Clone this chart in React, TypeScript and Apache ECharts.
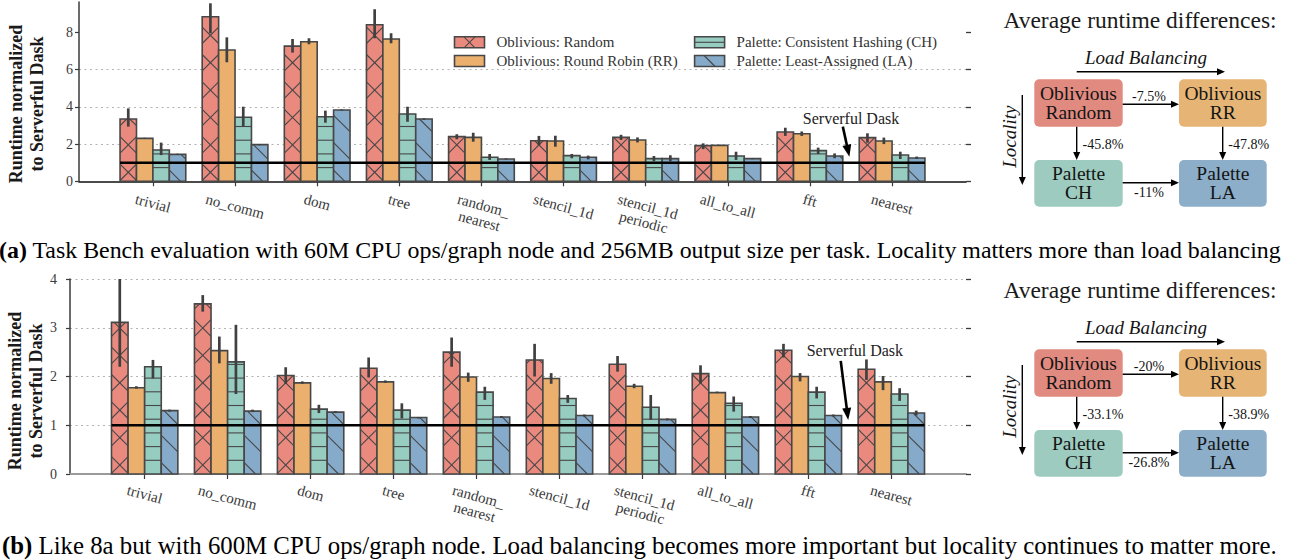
import { useEffect, useRef } from 'react';
import * as echarts from 'echarts';

const FONT = '"Liberation Serif", "Times New Roman", Times, serif';

// ---------------- data ----------------
const categories = ['trivial', 'no_comm', 'dom', 'tree', 'random_\nnearest', 'stencil_1d', 'stencil_1d\nperiodic', 'all_to_all', 'fft', 'nearest'];
const seriesNames = ['Oblivious: Random', 'Oblivious: Round Robin (RR)', 'Palette: Consistent Hashing (CH)', 'Palette: Least-Assigned (LA)'];

// (a) 60M CPU ops / graph node
const aRandom = [3.35, 8.85, 7.27, 8.42, 2.40, 2.18, 2.36, 1.92, 2.65, 2.35];
const aRandomErr = [[2.94, 3.92], [7.96, 9.57], [6.92, 7.65], [7.69, 9.25], [2.26, 2.53], [1.95, 2.44], [2.22, 2.50], [1.73, 2.04], [2.44, 2.88], [2.08, 2.58]];
const aRR = [2.31, 7.06, 7.50, 7.65, 2.36, 2.17, 2.22, 1.93, 2.56, 2.17];
const aRRErr = [[2.28, 2.34], [6.40, 7.74], [7.37, 7.69], [7.42, 7.96], [2.13, 2.61], [1.86, 2.45], [2.09, 2.36], [1.90, 1.96], [2.44, 2.68], [2.00, 2.35]];
const aCH = [1.68, 3.44, 3.47, 3.62, 1.29, 1.38, 1.22, 1.36, 1.65, 1.41];
const aCHErr = [[1.41, 2.08], [2.94, 4.01], [3.15, 3.80], [3.20, 4.01], [1.15, 1.47], [1.24, 1.47], [1.08, 1.36], [1.15, 1.59], [1.47, 1.81], [1.20, 1.59]];
const aLA = [1.45, 1.97, 3.83, 3.35, 1.20, 1.29, 1.22, 1.22, 1.36, 1.25];
const aLAErr = [[1.42, 1.48], [1.94, 2.00], [3.80, 3.86], [3.31, 3.39], [1.17, 1.23], [1.18, 1.38], [1.08, 1.40], [1.19, 1.25], [1.24, 1.50], [1.20, 1.33]];

// (b) 600M CPU ops / graph node
const bRandom = [3.11, 3.49, 2.02, 2.17, 2.50, 2.34, 2.25, 2.06, 2.54, 2.15];
const bRandomErr = [[2.20, 4.00], [3.33, 3.67], [1.85, 2.19], [1.98, 2.39], [2.20, 2.80], [2.00, 2.67], [2.10, 2.42], [1.86, 2.23], [2.39, 2.67], [1.93, 2.35]];
const bRR = [1.77, 2.53, 1.87, 1.89, 1.99, 1.96, 1.80, 1.67, 2.00, 1.89];
const bRRErr = [[1.75, 1.80], [2.27, 2.82], [1.85, 1.90], [1.87, 1.92], [1.89, 2.08], [1.85, 2.07], [1.76, 1.85], [1.66, 1.69], [1.90, 2.07], [1.72, 2.01]];
const bCH = [2.20, 2.30, 1.33, 1.31, 1.68, 1.55, 1.37, 1.45, 1.68, 1.64];
const bCHErr = [[1.96, 2.34], [1.64, 3.06], [1.25, 1.42], [1.14, 1.45], [1.52, 1.79], [1.46, 1.62], [1.11, 1.62], [1.28, 1.59], [1.55, 1.79], [1.50, 1.76]];
const bLA = [1.30, 1.29, 1.27, 1.16, 1.17, 1.20, 1.12, 1.17, 1.20, 1.25];
const bLAErr = [[1.28, 1.32], [1.27, 1.32], [1.25, 1.29], [1.14, 1.17], [1.15, 1.19], [1.18, 1.22], [1.10, 1.14], [1.15, 1.19], [1.18, 1.22], [1.20, 1.30]];

const topYTicks = [0, 2, 4, 6, 8];
const bottomYTicks = [0, 1, 2, 3, 4];
const serverfulValue = 1;
const yAxisTitle = 'Runtime normalized\nto Serverful Dask';
const annotationLabel = 'Serverful Dask';
const diagramTitle = 'Average runtime differences:';
const loadBalancingLabel = 'Load Balancing';
const localityLabel = 'Locality';
const boxLabels = ['Oblivious\nRandom', 'Oblivious\nRR', 'Palette\nCH', 'Palette\nLA'];
// order: Random->RR, Random->CH, RR->LA, CH->LA
const topDiffs = ['-7.5%', '-45.8%', '-47.8%', '-11%'];
const bottomDiffs = ['-20%', '-33.1%', '-38.9%', '-26.8%'];
const captionATag = '(a)';
const captionA = ' Task Bench evaluation with 60M CPU ops/graph node and 256MB output size per task. Locality matters more than load balancing';
const captionBTag = '(b)';
const captionB = ' Like 8a but with 600M CPU ops/graph node. Load balancing becomes more important but locality continues to matter more.';

// ---------------- styles ----------------
const BAR_W = 0.2;
const OFFSETS = [-0.3, -0.1, 0.1, 0.3];
const FILLS = ['#EA8A7F', '#EBB06E', '#97CCC0', '#86ABCA'];
const BOX_FILLS = ['#E08A80', '#E6B474', '#9DCBBF', '#8DAEC9'];
const HATCH = ['x', '', '-', '\\'];
const HATCH_PHASE = [9, 0, 0, 3];
const EDGE = '#474747';
const ERR = '#404040';
const H_SP = 13.7;
const D_SP = 27.4;
const TOP_YMAX = 9.64;
const X_MIN = -0.9;
const X_MAX = 9.9;
const XLABEL_SIZE = 15;
const XLABEL_LH = 16;

function hatchSegs(kind: string, x0: number, y0: number, x1: number, y1: number, cx: number, cy: number): number[][] {
  const out: number[][] = [];
  if (x1 - x0 <= 0 || y1 - y0 <= 0) return out;
  if (kind === '-') {
    for (let k = Math.ceil((y0 - cy) / H_SP); k < 1000; k++) {
      const y = cy + k * H_SP;
      if (y >= y1 - 0.3) break;
      if (y > y0 + 0.3) out.push([x0, y, x1, y]);
    }
  }
  if (kind === '\\' || kind === 'x') {
    const c0 = cy - cx;
    const cMin = y0 - x1, cMax = y1 - x0;
    for (let k = Math.ceil((cMin - c0) / D_SP); k < 1000; k++) {
      const c = c0 + k * D_SP;
      if (c > cMax) break;
      const xa = Math.max(x0, y0 - c), xb = Math.min(x1, y1 - c);
      if (xb - xa > 0.2) out.push([xa, xa + c, xb, xb + c]);
    }
  }
  if (kind === 'x') {
    const c0 = cy + cx;
    const cMin = x0 + y0, cMax = x1 + y1;
    for (let k = Math.ceil((cMin - c0) / D_SP); k < 1000; k++) {
      const c = c0 + k * D_SP;
      if (c > cMax) break;
      const xa = Math.max(x0, c - y1), xb = Math.min(x1, c - y0);
      if (xb - xa > 0.2) out.push([xa, c - xa, xb, c - xb]);
    }
  }
  return out;
}

function patchElements(alg: number, x0: number, y0: number, x1: number, y1: number, cx: number, cy: number, edgeW: number) {
  const segs = hatchSegs(HATCH[alg], x0, y0, x1, y1, cx, cy);
  const els: any[] = [
    { type: 'rect', shape: { x: x0, y: y0, width: x1 - x0, height: y1 - y0 }, style: { fill: FILLS[alg], stroke: null } },
  ];
  segs.forEach((s) => els.push({ type: 'line', shape: { x1: s[0], y1: s[1], x2: s[2], y2: s[3] }, style: { stroke: EDGE, lineWidth: 1.1 } }));
  els.push({ type: 'rect', shape: { x: x0, y: y0, width: x1 - x0, height: y1 - y0 }, style: { fill: null, stroke: EDGE, lineWidth: edgeW } });
  return els;
}

function barSeries(gi: number, vals: number[][], errs: number[][][], ymax: number) {
  return vals.map((arr, alg) => ({
    type: 'custom',
    name: seriesNames[alg],
    xAxisIndex: gi,
    yAxisIndex: gi * 2,
    clip: false,
    z: 2,
    silent: true,
    data: arr.map((v, i) => [i, v, errs[alg][i][0], Math.min(errs[alg][i][1], ymax)]),
    renderItem: (_params: any, api: any) => {
      const c = api.value(0), v = api.value(1), lo = api.value(2), hi = api.value(3);
      const xc = c + OFFSETS[alg];
      const p0 = api.coord([xc - BAR_W / 2, v]);
      const p1 = api.coord([xc + BAR_W / 2, 0]);
      const e0 = api.coord([xc, lo]);
      const e1 = api.coord([xc, hi]);
      const children = patchElements(alg, p0[0], p0[1], p1[0], p1[1], (p0[0] + p1[0]) / 2, p1[1] - HATCH_PHASE[alg], 1.6);
      children.push({ type: 'line', shape: { x1: e0[0], y1: e0[1], x2: e1[0], y2: e1[1] }, style: { stroke: ERR, lineWidth: 2.7 } });
      return { type: 'group', children };
    },
  }));
}

function xAxisCfg(gi: number, lineColor: string, lineWidth: number) {
  const ticks = categories.map((_, i) => i);
  return {
    type: 'value',
    gridIndex: gi,
    min: X_MIN,
    max: X_MAX,
    axisLine: { show: true, onZero: false, lineStyle: { color: lineColor, width: lineWidth } },
    axisTick: { show: true, customValues: ticks, length: 5, lineStyle: { color: '#3a3a3a', width: 1.2 } },
    axisLabel: { show: false },
    splitLine: { show: false },
  };
}

function yLeft(gi: number, max: number, interval: number, ticks: number[], margin: number, showMax: boolean) {
  return {
    type: 'value',
    gridIndex: gi,
    position: 'left',
    min: 0,
    max,
    interval,
    axisLine: { show: true, onZero: false, lineStyle: { color: '#3a3a3a', width: 1.5 } },
    axisTick: { show: true, customValues: ticks, length: 4, lineStyle: { color: '#3a3a3a', width: 1.2 } },
    axisLabel: { customValues: ticks, fontFamily: FONT, fontSize: 14, color: '#3a3a3a', margin },
    splitLine: { show: true, showMinLine: false, showMaxLine: showMax, lineStyle: { color: '#b3b3b3', width: 1, type: [2, 3.5] } },
  };
}

function yRight(gi: number, max: number, interval: number, ticks: number[]) {
  return {
    type: 'value',
    gridIndex: gi,
    position: 'right',
    min: 0,
    max,
    interval,
    axisLine: { show: false, onZero: false },
    axisTick: { show: true, customValues: ticks, length: 5, lineStyle: { color: '#3a3a3a', width: 1.3 } },
    axisLabel: { show: false },
    splitLine: { show: false },
  };
}

function baselineSeries(gi: number) {
  return {
    type: 'line',
    xAxisIndex: gi,
    yAxisIndex: gi * 2,
    data: [[-2 * BAR_W, serverfulValue], [categories.length - 1 + 2 * BAR_W, serverfulValue]],
    symbol: 'none',
    silent: true,
    z: 5,
    lineStyle: { color: '#000', width: 2.6 },
  };
}

function buildOption() {
  return {
    animation: false,
    grid: [
      { left: 79, top: 2, width: 887, height: 179.3 },
      { left: 70, top: 279, width: 896, height: 195 },
    ],
    xAxis: [xAxisCfg(0, '#111', 1.6), xAxisCfg(1, '#9a9a9a', 2)],
    yAxis: [
      yLeft(0, TOP_YMAX, 2, topYTicks, 6, false),
      yRight(0, TOP_YMAX, 2, topYTicks),
      yLeft(1, 4, 1, bottomYTicks, 13, true),
      yRight(1, 4, 1, bottomYTicks),
    ],
    series: [
      ...barSeries(0, [aRandom, aRR, aCH, aLA], [aRandomErr, aRRErr, aCHErr, aLAErr], TOP_YMAX),
      ...barSeries(1, [bRandom, bRR, bCH, bLA], [bRandomErr, bRRErr, bCHErr, bLAErr], 4),
      baselineSeries(0),
      baselineSeries(1),
    ],
  };
}

function arrowEls(x1: number, y1: number, x2: number, y2: number, head: number, half: number, w: number) {
  const ang = Math.atan2(y2 - y1, x2 - x1);
  const bx = x2 - head * Math.cos(ang), by = y2 - head * Math.sin(ang);
  const px = -Math.sin(ang) * half, py = Math.cos(ang) * half;
  return [
    { type: 'line', z: 20, shape: { x1, y1, x2: bx + head * 0.3 * Math.cos(ang), y2: by + head * 0.3 * Math.sin(ang) }, style: { stroke: '#000', lineWidth: w } },
    { type: 'polygon', z: 20, shape: { points: [[x2, y2], [bx + px, by + py], [bx - px, by - py]] }, style: { fill: '#000', stroke: null } },
  ];
}

function txt(text: string, x: number, y: number, opts: any = {}) {
  return {
    type: 'text',
    x,
    y,
    z: 20,
    style: { text, fontFamily: FONT, fontSize: 19, fill: '#141414', textAlign: 'center', textVerticalAlign: 'middle', ...opts },
  };
}

function diagram(dy: number, diffs: string[]) {
  const els: any[] = [];
  els.push(txt(diagramTitle, 1140, 20 + dy, { fontSize: 23.5, fill: '#1a1a1a' }));
  els.push(txt(loadBalancingLabel, 1146, 57 + dy, { fontStyle: 'italic', fontSize: 19 }));
  els.push(...arrowEls(1076.7, 71.7 + dy, 1225, 71.7 + dy, 8, 3.5, 1.4));
  els.push({ ...txt(localityLabel, 1009.3, 136.7 + dy, { fontStyle: 'italic', fontSize: 19 }), rotation: Math.PI / 2 });
  els.push(...arrowEls(1022.3, 95 + dy, 1022.3, 185 + dy, 8, 3.5, 1.4));
  const boxes = [
    [1034.3, 79.3, 88.4, 47.4],
    [1179, 79.3, 87.7, 47.4],
    [1034.3, 160, 88.4, 46.7],
    [1179, 160, 87.7, 46.7],
  ];
  boxes.forEach((b, i) => {
    els.push({ type: 'rect', z: 15, shape: { x: b[0], y: b[1] + dy, width: b[2], height: b[3], r: 5 }, style: { fill: BOX_FILLS[i], stroke: null } });
    els.push(txt(boxLabels[i], b[0] + b[2] / 2, b[1] + dy + b[3] / 2, { fontSize: 19.5, lineHeight: 19 }));
  });
  els.push(...arrowEls(1122.7, 104.3 + dy, 1179, 104.3 + dy, 8, 3.5, 1.4));
  els.push(...arrowEls(1076.7, 126.7 + dy, 1076.7, 160 + dy, 8, 3.5, 1.4));
  els.push(...arrowEls(1222.7, 126.7 + dy, 1222.7, 160 + dy, 8, 3.5, 1.4));
  els.push(...arrowEls(1122.7, 182.7 + dy, 1179, 182.7 + dy, 8, 3.5, 1.4));
  els.push(txt(diffs[0], 1149, 96 + dy, { fontSize: 14 }));
  els.push(txt(diffs[1], 1082.5, 144.3 + dy, { fontSize: 14, textAlign: 'left' }));
  els.push(txt(diffs[2], 1228.3, 144.3 + dy, { fontSize: 14, textAlign: 'left' }));
  els.push(txt(diffs[3], 1149, 192.7 + dy, { fontSize: 14 }));
  return els;
}

function legendEls() {
  const pos = [
    [454.5, 36.8],
    [454.5, 55.5],
    [694.6, 36.8],
    [694.6, 55.5],
  ];
  const els: any[] = [];
  seriesNames.forEach((name, i) => {
    const [x, y] = pos[i];
    const w = 30, h = 11;
    els.push({ type: 'group', z: 10, children: patchElements(i, x, y, x + w, y + h, x + w / 2, y + h / 2, 1.6) });
    els.push(txt(name, x + w + 12, y + h / 2, { fontSize: 15, textAlign: 'left', fill: '#333' }));
  });
  return els;
}

let measureCtx: CanvasRenderingContext2D | null = null;
function textWidth(s: string, size: number) {
  if (!measureCtx) measureCtx = document.createElement('canvas').getContext('2d');
  if (!measureCtx) return s.length * size * 0.45;
  measureCtx.font = `${size}px "Liberation Serif"`;
  return Math.max(...s.split('\n').map((l) => measureCtx!.measureText(l).width));
}

function xLabelEls(chart: any, gi: number, bboxTop: number) {
  const ang = (15 * Math.PI) / 180;
  const finder = { xAxisIndex: gi, yAxisIndex: gi * 2 };
  return categories.map((c, i) => {
    const p = chart.convertToPixel(finder, [i, 0]);
    const w = textWidth(c, XLABEL_SIZE);
    const h = c.split('\n').length * XLABEL_LH;
    const bh = w * Math.sin(ang) + h * Math.cos(ang);
    return {
      type: 'text',
      x: p[0],
      y: bboxTop + bh / 2,
      rotation: -ang,
      z: 20,
      style: { text: c, fontFamily: FONT, fontSize: XLABEL_SIZE, lineHeight: XLABEL_LH, fill: '#3a3a3a', textAlign: 'center', textVerticalAlign: 'middle' },
    };
  });
}

function buildGraphics(chart: any) {
  const els: any[] = [];
  // y-axis titles
  els.push({ ...txt(yAxisTitle, 26.3, 104, { fontSize: 18, fontWeight: 'bold', lineHeight: 21, fill: '#1a1a1a' }), rotation: Math.PI / 2 });
  els.push({ ...txt(yAxisTitle, 25, 391, { fontSize: 18, fontWeight: 'bold', lineHeight: 21, fill: '#1a1a1a' }), rotation: Math.PI / 2 });
  // x-axis category labels
  els.push(...xLabelEls(chart, 0, 191));
  els.push(...xLabelEls(chart, 1, 482));
  // legend
  els.push(...legendEls());
  // annotations
  const annots = [
    { gi: 0, text: [8.5, 3.39], from: [8.4, 2.94], to: [8.48, 1.32] },
    { gi: 1, text: [8.56, 2.54], from: [8.39, 2.32], to: [8.48, 1.11] },
  ];
  annots.forEach((a) => {
    const finder = { xAxisIndex: a.gi, yAxisIndex: a.gi * 2 };
    const t = chart.convertToPixel(finder, a.text);
    const f = chart.convertToPixel(finder, a.from);
    const e = chart.convertToPixel(finder, a.to);
    els.push(txt(annotationLabel, t[0], t[1], { fontSize: 16, fill: '#222' }));
    els.push(...arrowEls(f[0], f[1], e[0], e[1], 12, 4.5, 2.6));
  });
  // diagrams
  els.push(...diagram(0, topDiffs));
  els.push(...diagram(270, bottomDiffs));
  // captions
  const richA = { b: { fontFamily: FONT, fontSize: 23.9, fontWeight: 'bold', fill: '#000' } };
  const richB = { b: { fontFamily: FONT, fontSize: 24.8, fontWeight: 'bold', fill: '#000' } };
  els.push({ type: 'text', x: -1, y: 250, z: 20, style: { text: '{b|' + captionATag + '}' + captionA, rich: richA, fontFamily: FONT, fontSize: 23.9, fill: '#000', textAlign: 'left', textVerticalAlign: 'middle' } });
  els.push({ type: 'text', x: 2, y: 545, z: 20, style: { text: '{b|' + captionBTag + '}' + captionB, rich: richB, fontFamily: FONT, fontSize: 24.8, fill: '#000', textAlign: 'left', textVerticalAlign: 'middle' } });
  return els;
}

export default function App() {
  const ref = useRef<HTMLDivElement>(null);
  useEffect(() => {
    document.body.style.margin = '0';
    const chart = echarts.init(ref.current as HTMLDivElement, null, { renderer: 'svg' });
    chart.setOption(buildOption() as any);
    chart.setOption({ graphic: buildGraphics(chart) } as any);
    return () => chart.dispose();
  }, []);
  return <div ref={ref} style={{ width: 1291, height: 560 }} />;
}
